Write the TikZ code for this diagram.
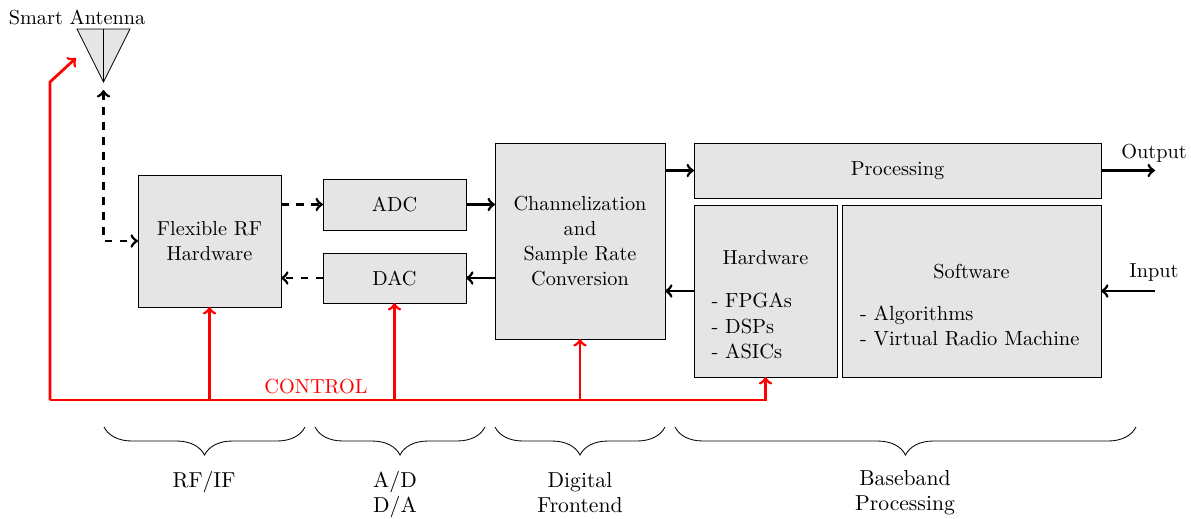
\documentclass[tikz,border=0pt]{standalone}
\usetikzlibrary{decorations.pathreplacing}
\def\pxu{0.476pt}
\tikzset{
  every node/.style={font=\fontsize{9.65}{12}\selectfont},
  box/.style={draw=black,line width=0.4pt,fill=black!10,inner sep=0pt,outer sep=0pt,align=center},
  link/.style={->,line width=1.3pt},
  dlink/.style={->,line width=1.3pt,dash pattern=on 7.5*\pxu off 7.5*\pxu},
  ctrl/.style={->,line width=1.3pt,red},
  lab/.style={inner sep=0pt,outer sep=0pt,align=center},
  biglab/.style={lab,font=\fontsize{10.3}{12}\selectfont},
  list/.style={inner sep=0pt,outer sep=0pt,align=left,anchor=west,font=\fontsize{9.75}{12}\selectfont},
  bracket/.style={draw=black,line width=0.4pt,decorate,decoration={brace,mirror,amplitude=28*\pxu}}
}
\begin{document}
\begin{tikzpicture}[x=\pxu,y=-\pxu]
\useasboundingbox (0,0) rectangle (1191,518);
% boxes
\node[box,minimum width=143*\pxu,minimum height=132*\pxu] (rf) at (209.5,241) {Flexible RF\\Hardware};
\node[box,minimum width=143*\pxu,minimum height=51*\pxu] (adc) at (394.5,204.5) {ADC};
\node[box,minimum width=143*\pxu,minimum height=50*\pxu] (dac) at (394.5,278) {DAC};
\node[box,minimum width=170*\pxu,minimum height=196*\pxu] (chan) at (580,241) {Channelization\\and\\Sample Rate\\Conversion};
\node[box,minimum width=407*\pxu,minimum height=55*\pxu] (proc) at (897.5,170.5) {Processing};
\node[box,minimum width=143*\pxu,minimum height=172*\pxu] (hw) at (765.5,291) {};
\node[box,minimum width=259*\pxu,minimum height=172*\pxu] (sw) at (971.5,291) {};
% box texts
\node[lab] (hwt) at (765.5,258) {Hardware};
\node[list] (hwl) at (711.5,326) {- FPGAs\\- DSPs\\- ASICs};
\node[lab] (swt) at (971.5,271.5) {Software};
\node[list] (swl) at (860,325.5) {- Algorithms\\- Virtual Radio Machine};
% antenna
\coordinate (antl) at (77,29);
\coordinate (antr) at (130,29);
\coordinate (antm) at (103.5,29);
\coordinate (anttip) at (103.5,82);
\draw[draw=black,line width=0.4pt,fill=black!10] (antl) -- (antr) -- (anttip) -- cycle;
\draw[draw=black,line width=0.4pt] (antm) -- (anttip);
\node[lab] (antlab) at (77,17.5) {Smart Antenna};
% free ends
\coordinate (out) at (1155,170.5);
\coordinate (in) at (1155,291);
\coordinate (bus) at (50,400);
\coordinate (rbend) at (50,82);
\coordinate (rtip) at (76,58);
% black links
\draw[dlink] (rf.east |- adc.west) -- (adc.west);
\draw[dlink] (dac.west) -- (rf.east |- dac.west);
\draw[dlink,<->,shorten <=8*\pxu] (anttip) |- (rf.west);
\draw[link] (adc.east) -- (chan.west |- adc.east);
\draw[link] (chan.west |- dac.east) -- (dac.east);
\draw[link] (chan.east |- proc.west) -- (proc.west);
\draw[link] (hw.west) -- (chan.east |- hw.west);
\draw[link] (proc.east) -- (out);
\draw[link] (in) -- (sw.east);
\node[lab] (outlab) at (1154,153) {Output};
\node[lab] (inlab) at (1154,273) {Input};
% control
\draw[ctrl] (bus) -- (rbend) -- (rtip);
\draw[ctrl] (bus) -| (rf.south);
\draw[ctrl] (bus) -| (dac.south);
\draw[ctrl] (bus) -| (chan.south);
\draw[ctrl] (bus) -| (hw.south);
\node[lab,text=red] (ctrllab) at (316,387) {CONTROL};
% braces
\coordinate (b1a) at (104,427); \coordinate (b1b) at (305,427);
\coordinate (b2a) at (315,427); \coordinate (b2b) at (485,427);
\coordinate (b3a) at (495,427); \coordinate (b3b) at (665,427);
\coordinate (b4a) at (675,427); \coordinate (b4b) at (1136,427);
\draw[bracket] (b1a) -- (b1b);
\draw[bracket] (b2a) -- (b2b);
\draw[bracket] (b3a) -- (b3b);
\draw[bracket] (b4a) -- (b4b);
\node[biglab] (l1) at (204,482) {RF/IF};
\node[biglab] (l2) at (395,494.5) {A/D\\D/A};
\node[biglab] (l3) at (580,492.5) {Digital\\Frontend};
\node[biglab] (l4) at (905,492.5) {Baseband\\Processing};
\end{tikzpicture}
\end{document}
